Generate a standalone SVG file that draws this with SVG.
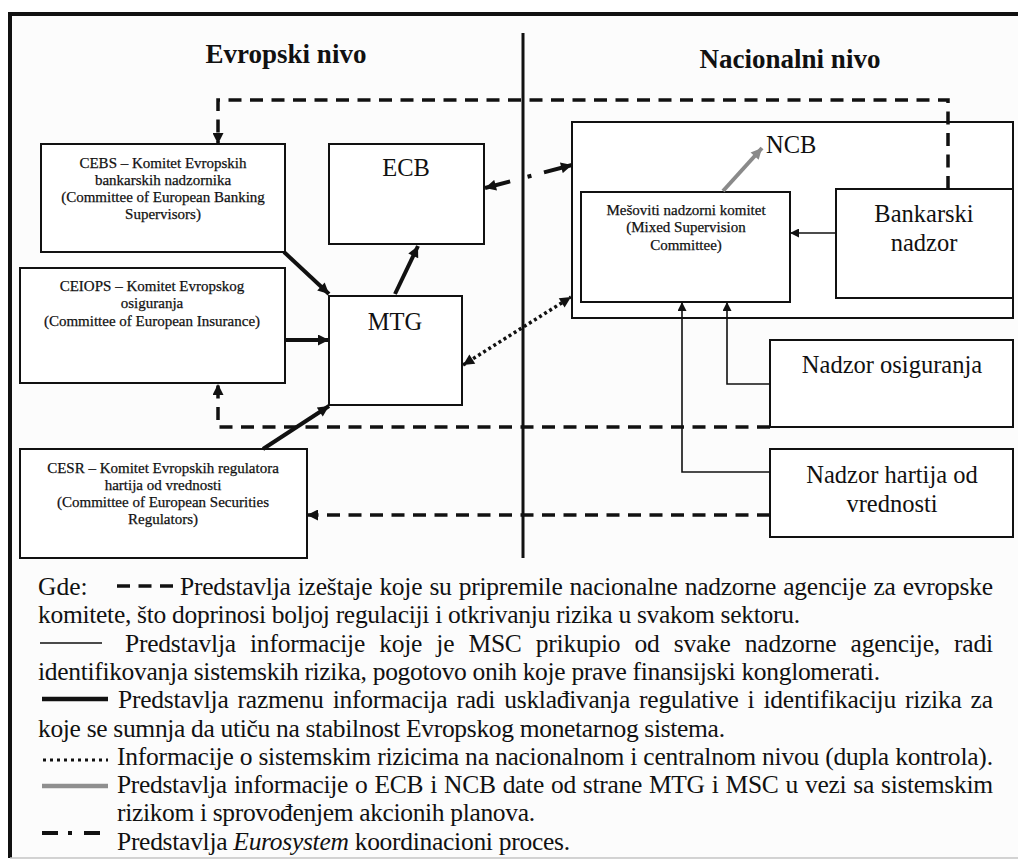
<svg xmlns="http://www.w3.org/2000/svg" width="1018" height="862" viewBox="0 0 1018 862">
  <defs>
    <style>
      text { font-family: "Liberation Serif", "Times New Roman", serif; fill: #111; }
      .box { fill: #fff; stroke: #111; stroke-width: 2; }
      .hdr { font-size: 27px; font-weight: bold; text-anchor: middle; }
      .big { font-size: 24.5px; text-anchor: middle; }
      .small { font-size: 15px; text-anchor: middle; stroke: #111; stroke-width: 0.25; }
      .leg { font-size: 25.5px; }
      .dash { fill: none; stroke: #111; stroke-width: 3.5; stroke-dasharray: 13 8.5; }
      .thick { fill: none; stroke: #111; stroke-width: 4; }
      .thin { fill: none; stroke: #111; stroke-width: 1.6; }
      .dot { fill: none; stroke: #111; stroke-width: 3.5; stroke-dasharray: 3 3; }
      .dashdot { fill: none; stroke: #111; stroke-width: 4; stroke-dasharray: 26 18 4 13 40; }
      .grey { fill: none; stroke: #8a8a8a; stroke-width: 4; }
    </style>
    <marker id="ah" viewBox="0 0 10 10" refX="10" refY="5" markerWidth="13" markerHeight="11" markerUnits="userSpaceOnUse" orient="auto-start-reverse">
      <path d="M0,0 L10,5 L0,10 z" fill="#111"/>
    </marker>
    <marker id="ahs" viewBox="0 0 10 10" refX="10" refY="5" markerWidth="11" markerHeight="9" markerUnits="userSpaceOnUse" orient="auto-start-reverse">
      <path d="M0,0 L10,5 L0,10 z" fill="#111"/>
    </marker>
    <marker id="ahg" viewBox="0 0 10 10" refX="10" refY="5" markerWidth="13" markerHeight="11" markerUnits="userSpaceOnUse" orient="auto">
      <path d="M0,0 L10,5 L0,10 z" fill="#8a8a8a"/>
    </marker>
  </defs>

  <!-- page background and frame -->
  <rect x="0" y="0" width="1018" height="862" fill="#fff"/>
  <rect x="10" y="14" width="1008" height="844" fill="#fcfcfc"/>
  <line x1="8" y1="14" x2="1018" y2="14" stroke="#111" stroke-width="4"/>
  <line x1="10" y1="12" x2="10" y2="858" stroke="#111" stroke-width="4"/>
  <line x1="10" y1="858" x2="1018" y2="858" stroke="#c4c4c4" stroke-width="1.5"/>

  <!-- level divider and headings -->
  <line x1="523" y1="33" x2="523" y2="558" stroke="#111" stroke-width="3"/>
  <text class="hdr" x="286" y="63">Evropski nivo</text>
  <text class="hdr" x="790" y="68">Nacionalni nivo</text>

  <!-- national central bank frame -->
  <g id="ncb">
    <rect class="box" x="572" y="122" width="441" height="196"/>
    <text x="766" y="153" style="font-size:24.5px">NCB</text>
  </g>

  <g id="cebs">
    <rect class="box" x="41" y="144" width="244" height="108"/>
    <text class="small" x="163" y="168">CEBS – Komitet Evropskih</text>
    <text class="small" x="163" y="185">bankarskih nadzornika</text>
    <text class="small" x="163" y="202">(Committee of European Banking</text>
    <text class="small" x="163" y="219">Supervisors)</text>
  </g>

  <g id="ecb">
    <rect class="box" x="329" y="144" width="155" height="100"/>
    <text class="big" x="406" y="176">ECB</text>
  </g>

  <g id="ceiops">
    <rect class="box" x="20" y="268" width="265" height="115"/>
    <text class="small" x="152" y="291">CEIOPS – Komitet Evropskog</text>
    <text class="small" x="152" y="308">osiguranja</text>
    <text class="small" x="152" y="326">(Committee of European Insurance)</text>
  </g>

  <g id="mtg">
    <rect class="box" x="329" y="296" width="133" height="109"/>
    <text class="big" x="395" y="330">MTG</text>
  </g>

  <g id="cesr">
    <rect class="box" x="20" y="449" width="287" height="109"/>
    <text class="small" x="163" y="473">CESR – Komitet Evropskih regulatora</text>
    <text class="small" x="163" y="490">hartija od vrednosti</text>
    <text class="small" x="163" y="507">(Committee of European Securities</text>
    <text class="small" x="163" y="524">Regulators)</text>
  </g>

  <g id="msc">
    <rect class="box" x="581" y="192" width="209" height="110"/>
    <text class="small" x="686" y="215">Mešoviti nadzorni komitet</text>
    <text class="small" x="686" y="232">(Mixed Supervision</text>
    <text class="small" x="686" y="250">Committee)</text>
  </g>

  <g id="bankarski">
    <rect class="box" x="836" y="189" width="177" height="109"/>
    <text class="big" x="924" y="222">Bankarski</text>
    <text class="big" x="924" y="251">nadzor</text>
  </g>

  <g id="osiguranje">
    <rect class="box" x="770" y="340" width="243" height="87"/>
    <text class="big" x="892" y="373">Nadzor osiguranja</text>
  </g>

  <g id="hartije">
    <rect class="box" x="770" y="449" width="243" height="88"/>
    <text class="big" x="892" y="483">Nadzor hartija od</text>
    <text class="big" x="892" y="512">vrednosti</text>
  </g>

  <!-- connectors -->
  <g id="connectors">
    <!-- reports from national supervisors to the European committees -->
    <path class="dash" d="M948,189 V100 H218 V144" marker-end="url(#ah)"/>
    <path class="dash" d="M770,427 H218 V384" marker-end="url(#ah)"/>
    <path class="dash" d="M770,515 H307" marker-end="url(#ah)"/>
    <!-- exchange with MTG -->
    <path class="thick" d="M284,252 L329,294" marker-end="url(#ah)"/>
    <path class="thick" d="M395,294 L418,246" marker-end="url(#ah)"/>
    <path class="thick" d="M285,340 L329,340" marker-end="url(#ah)"/>
    <path class="thick" d="M263,449 L329,406" marker-end="url(#ah)"/>
    <!-- Eurosystem coordination -->
    <path class="dashdot" d="M485,188 L572,165" marker-start="url(#ah)" marker-end="url(#ah)"/>
    <!-- double control -->
    <path class="dot" d="M463,365 L571,297" marker-start="url(#ah)" marker-end="url(#ah)"/>
    <!-- MSC to NCB -->
    <path class="grey" d="M723,191 L762,148" marker-end="url(#ahg)"/>
    <!-- supervisors to MSC -->
    <path class="thin" d="M836,233 H790" marker-end="url(#ahs)"/>
    <path class="thin" d="M770,384 H727 V302" marker-end="url(#ahs)"/>
    <path class="thin" d="M770,472 H682 V302" marker-end="url(#ahs)"/>
  </g>

  <!-- key -->
  <g id="legend">
    <text class="leg" x="38" y="595">Gde:</text>
    <line x1="117" y1="586" x2="173" y2="586" stroke="#111" stroke-width="3.5" stroke-dasharray="13 8.5"/>
    <text class="leg" x="180" y="595" textLength="813" lengthAdjust="spacing" word-spacing="1">Predstavlja izeštaje koje su pripremile nacionalne nadzorne agencije za evropske</text>
    <text class="leg" x="38" y="623" textLength="762" lengthAdjust="spacing">komitete, što doprinosi boljoj regulaciji i otkrivanju rizika u svakom sektoru.</text>

    <line x1="40" y1="643" x2="102" y2="643" stroke="#111" stroke-width="1.5"/>
    <text class="leg" x="125" y="652" textLength="868" lengthAdjust="spacing" word-spacing="8">Predstavlja informacije koje je MSC prikupio od svake nadzorne agencije, radi</text>
    <text class="leg" x="38" y="680" textLength="842" lengthAdjust="spacing">identifikovanja sistemskih rizika, pogotovo onih koje prave finansijski konglomerati.</text>

    <line x1="42" y1="699" x2="108" y2="699" stroke="#111" stroke-width="4.5"/>
    <text class="leg" x="118" y="708" textLength="875" lengthAdjust="spacing" word-spacing="3">Predstavlja razmenu informacija radi usklađivanja regulative i identifikaciju rizika za</text>
    <text class="leg" x="38" y="737" textLength="687" lengthAdjust="spacing">koje se sumnja da utiču na stabilnost Evropskog monetarnog sistema.</text>

    <line x1="43" y1="760" x2="108" y2="760" stroke="#111" stroke-width="3" stroke-dasharray="3 4"/>
    <text class="leg" x="117" y="765" textLength="876" lengthAdjust="spacing">Informacije o sistemskim rizicima na nacionalnom i centralnom nivou (dupla kontrola).</text>

    <line x1="42" y1="786" x2="108" y2="786" stroke="#8f8f8f" stroke-width="4.5"/>
    <text class="leg" x="117" y="793" textLength="876" lengthAdjust="spacing" word-spacing="1">Predstavlja informacije o ECB i NCB date od strane MTG i MSC u vezi sa sistemskim</text>
    <text class="leg" x="117" y="821" textLength="418" lengthAdjust="spacing">rizikom i sprovođenjem akcionih planova.</text>

    <line x1="42" y1="833" x2="100" y2="833" stroke="#111" stroke-width="4" stroke-dasharray="16 10 4 12 16"/>
    <text class="leg" x="117" y="850" textLength="453" lengthAdjust="spacing">Predstavlja <tspan font-style="italic">Eurosystem</tspan> koordinacioni proces.</text>
  </g>
</svg>
